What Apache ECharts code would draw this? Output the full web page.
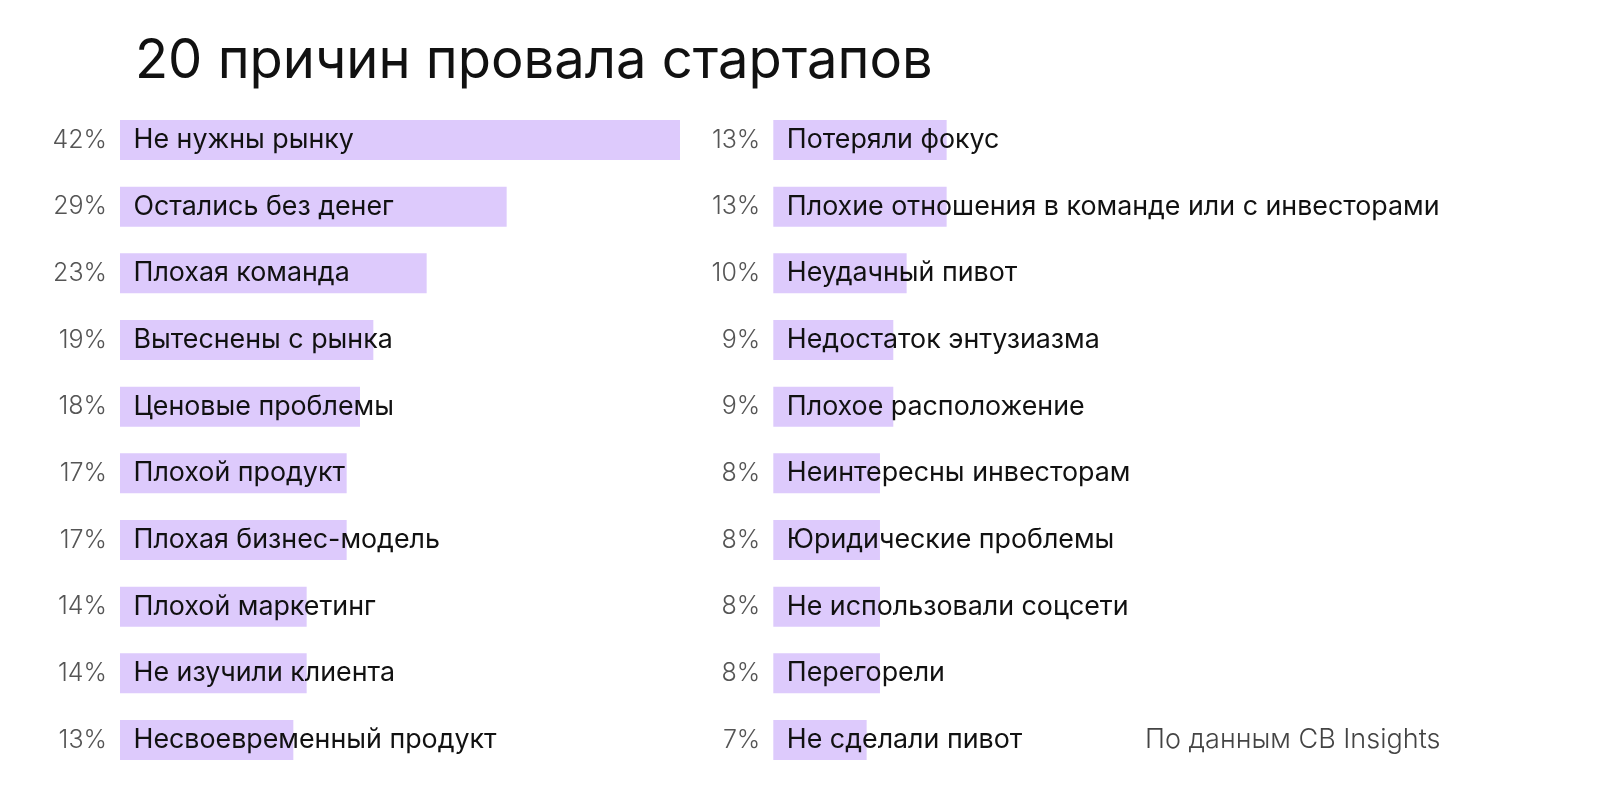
<!DOCTYPE html>
<html>
<head>
<meta charset="utf-8">
<script src="https://cdn.jsdelivr.net/npm/echarts@6/dist/echarts.min.js"></script>
<style>
html,body{margin:0;padding:0;background:#fff;}
#chart{width:1600px;height:800px;}
</style>
</head>
<body>
<div id="chart"></div>
<script>
const titleText = '20 причин провала стартапов';
const sourceText = 'По данным CB Insights';

const leftNames = ['Не нужны рынку','Остались без денег','Плохая команда','Вытеснены с рынка','Ценовые проблемы','Плохой продукт','Плохая бизнес-модель','Плохой маркетинг','Не изучили клиента','Несвоевременный продукт'];
const leftValues = [42,29,23,19,18,17,17,14,14,13];

const rightNames = ['Потеряли фокус','Плохие отношения в команде или с инвесторами','Неудачный пивот','Недостаток энтузиазма','Плохое расположение','Неинтересны инвесторам','Юридические проблемы','Не использовали соцсети','Перегорели','Не сделали пивот'];
const rightValues = [13,13,10,9,9,8,8,8,8,7];

const FONT = 'Inter';
const BAR = '#ddcafc';

function yAxisFor(idx, names, values) {
  return {
    type: 'category', gridIndex: idx, inverse: true, data: names,
    axisLine: {show: false}, axisTick: {show: false}, splitLine: {show: false},
    axisLabel: {
      margin: 13, fontFamily: FONT, fontSize: 25, fontWeight: 300, color: '#555',
      formatter: (v, i) => values[i] + '%'
    }
  };
}
function xAxisFor(idx) {
  return {type: 'value', gridIndex: idx, min: 0, max: 42, show: false};
}
function seriesFor(idx, names, values) {
  return {
    type: 'bar', xAxisIndex: idx, yAxisIndex: idx, data: values,
    barWidth: 40, itemStyle: {color: BAR}, silent: true,
    label: {
      show: true, position: 'insideLeft', distance: 13.5,
      fontFamily: FONT, fontSize: 26.8, color: '#111',
      textBorderWidth: 0,
      formatter: p => names[p.dataIndex]
    }
  };
}

const chart = echarts.init(document.getElementById('chart'));
chart.setOption({
  backgroundColor: '#fff',
  animation: false,
  title: [
    {text: titleText, left: 130, top: 30,
     textStyle: {fontFamily: FONT, fontSize: 54.3, fontWeight: 400, color: '#111'}},
    {text: sourceText, left: 1140, top: 721,
     textStyle: {fontFamily: FONT, fontSize: 27, fontWeight: 300, color: '#444'}}
  ],
  grid: [
    {left: 120, top: 106.67, width: 560, height: 666.67},
    {left: 773.3, top: 106.67, width: 560, height: 666.67}
  ],
  xAxis: [xAxisFor(0), xAxisFor(1)],
  yAxis: [yAxisFor(0, leftNames, leftValues), yAxisFor(1, rightNames, rightValues)],
  series: [seriesFor(0, leftNames, leftValues), seriesFor(1, rightNames, rightValues)]
});
</script>
</body>
</html>
